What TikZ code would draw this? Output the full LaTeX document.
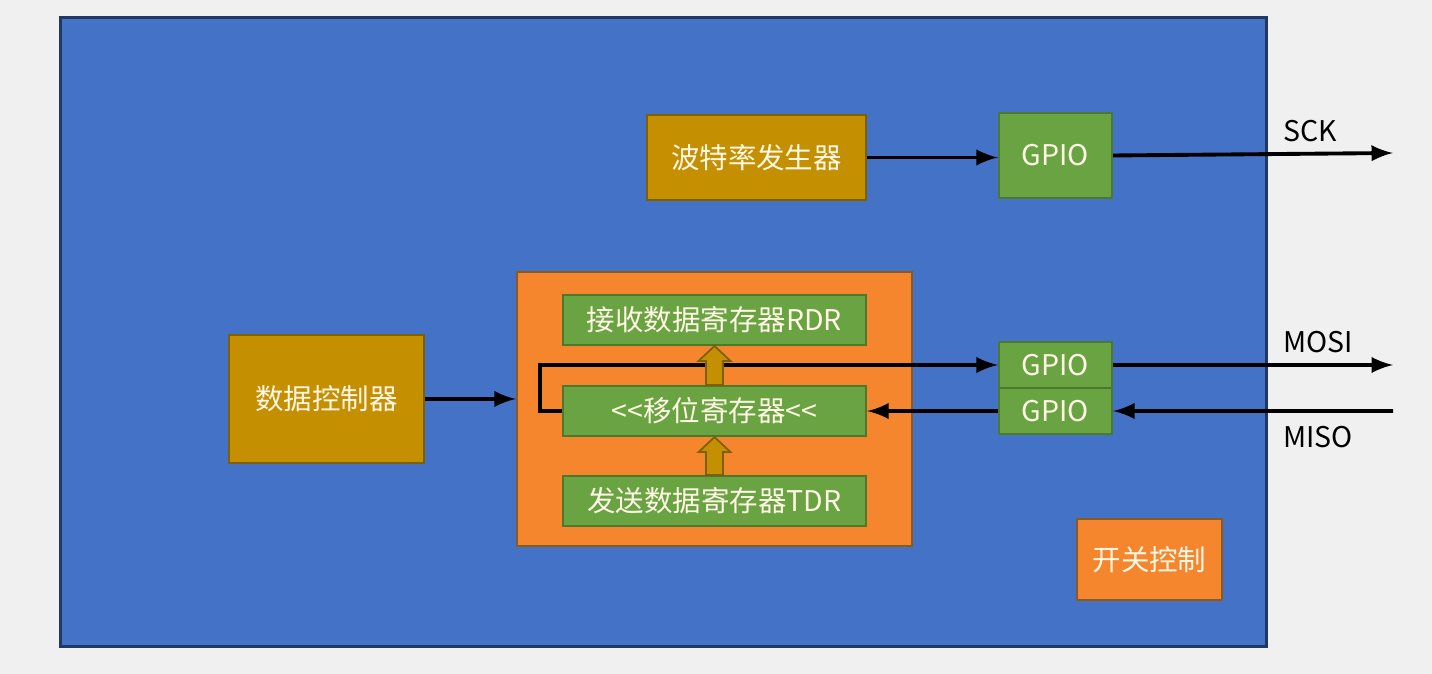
\documentclass[tikz,border=0pt]{standalone}
\usepackage{fontspec}
\setmainfont{Noto Sans CJK SC}
\usetikzlibrary{arrows, calc}
\definecolor{pagegray}{HTML}{F0F0F0}
\definecolor{chipfill}{HTML}{4472C6}
\definecolor{chipline}{HTML}{1F3864}
\definecolor{goldfill}{HTML}{C48F00}
\definecolor{goldline}{HTML}{7F6000}
\definecolor{orangefill}{HTML}{F5862E}
\definecolor{orangeline}{HTML}{8A5A1E}
\definecolor{greenfill}{HTML}{6AA342}
\definecolor{greenline}{HTML}{4B7A2E}
\definecolor{textcream}{HTML}{FFF7E6}
\tikzstyle{chip} = [rectangle, minimum width=12.05cm, minimum height=6.28cm, draw=chipline, fill=chipfill, line width=0.8pt]
\tikzstyle{unit} = [rectangle, text centered, draw=goldline, fill=goldfill, text=textcream, line width=0.6pt]
\tikzstyle{block} = [rectangle, text centered, draw=orangeline, fill=orangefill, text=textcream, line width=0.6pt]
\tikzstyle{reg} = [rectangle, minimum width=3.03cm, minimum height=0.48cm, text centered, draw=greenline, fill=greenfill, text=textcream, line width=0.6pt]
\tikzstyle{pin} = [rectangle, minimum width=1.13cm, text centered, draw=greenline, fill=greenfill, text=textcream, line width=0.6pt]
\tikzstyle{arrow} = [line width=1.1pt,->,>=latex]
\tikzstyle{shiftarrow} = [fill=goldfill, draw=goldline, line width=0.5pt]

\begin{document}
\begin{tikzpicture}[x=0.01cm, y=-0.01cm, font=\fontsize{8.1}{10}\selectfont]
\useasboundingbox[fill=pagegray] (0,0) rectangle (1432,674);
\node (chip) [chip] at (663.5,332) {};
\node (baud)  [unit, minimum width=2.19cm, minimum height=0.85cm] at (756.5,157.5) {波特率发生器};
\node (ctrl)  [unit, minimum width=1.95cm, minimum height=1.28cm] at (326.5,399) {数据控制器};
\node (regs)  [block, minimum width=3.95cm, minimum height=2.74cm] at (714.5,409) {};
\node (onoff) [block, minimum width=1.45cm, minimum height=0.81cm] at (1149.5,559.5) {开关控制};
\node (rdr)   [reg] at (714.5,320) {接收数据寄存器RDR};
\node (shift) [reg, below of=rdr, node distance=0.91cm] {<{}<移位寄存器<{}<};
\node (tdr)   [reg, below of=shift, node distance=0.9cm] {发送数据寄存器TDR};
\node (gpiosck)  [pin, minimum height=0.85cm] at (1055.5,155.5) {GPIO};
\node (gpiomosi) [pin, minimum height=0.46cm] at (1055.5,365) {GPIO};
\node (gpiomiso) [pin, minimum height=0.46cm, below of=gpiomosi, node distance=0.46cm] {GPIO};
\coordinate (sck)    at (1393,153);
\coordinate (mosi)   at (1393,365);
\coordinate (miso)   at (1393,411);
\node (scklabel)  at (1310,131) {SCK};
\node (mosilabel) at (1318,342) {MOSI};
\node (misolabel) at (1318,437) {MISO};
\draw [arrow] (baud.east) -- (baud.east -| gpiosck.west);
\draw [arrow] (gpiosck.east) -- (sck);
\draw [arrow] (ctrl.east) -- (ctrl.east -| regs.west);
\draw [arrow] (shift.west) -- ++(-22,0) |- (gpiomosi.west);
\draw [arrow] (gpiomosi.east) -- (mosi);
\draw [arrow] (miso) -- (gpiomiso.east);
\draw [arrow] (gpiomiso.west) -- (shift.east);
\foreach \from/\to in {shift/rdr, tdr/shift}
  \draw [shiftarrow] ($(\from.north)+(-8.5,0)$) -- ($(\to.south)+(-8.5,15)$) -- ($(\to.south)+(-16,15)$) -- (\to.south)
    -- ($(\to.south)+(16,15)$) -- ($(\to.south)+(8.5,15)$) -- ($(\from.north)+(8.5,0)$) -- cycle;
\end{tikzpicture}
\end{document}
